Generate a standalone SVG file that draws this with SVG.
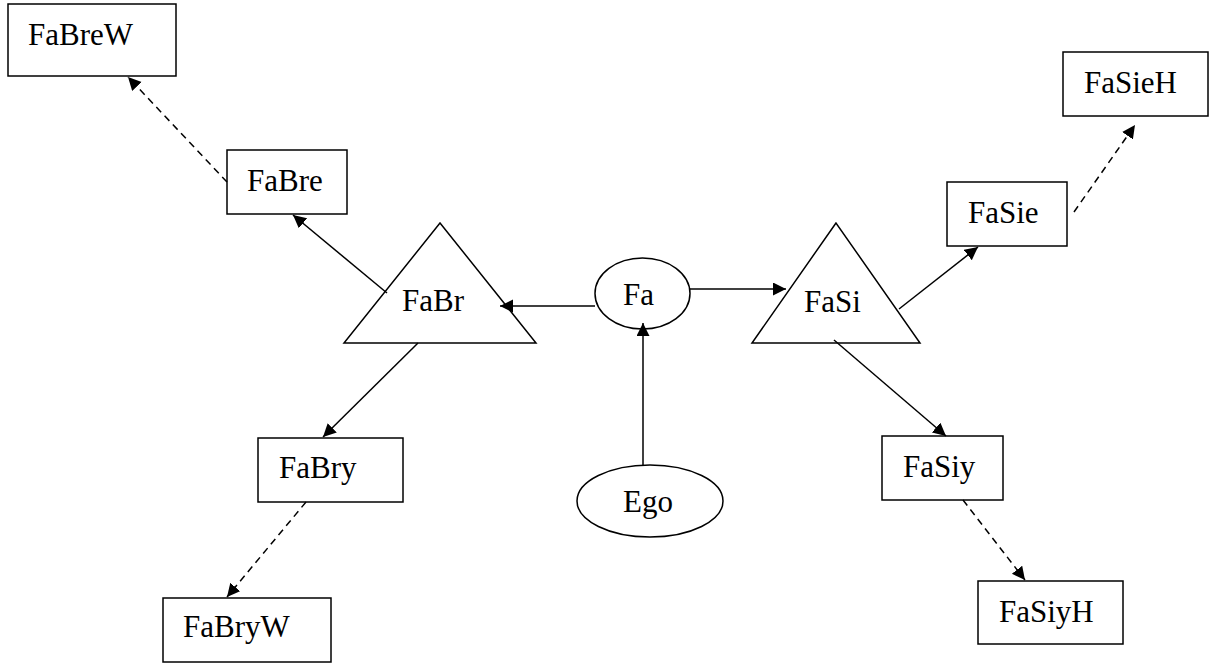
<svg xmlns="http://www.w3.org/2000/svg" width="1214" height="663" viewBox="0 0 1214 663">
<style>
.box{fill:#fff;stroke:#000;stroke-width:1.5}
.lbl{font-family:"Liberation Serif","Times New Roman",serif;font-size:31px;fill:#000}
.c{stroke:#000;stroke-width:1.5;fill:none;marker-end:url(#ah)}
.d{stroke-dasharray:7 5}
</style>
<defs>
<marker id="ah" markerUnits="userSpaceOnUse" markerWidth="14" markerHeight="14" refX="13" refY="6.5" orient="auto">
<path d="M0,0 L13,6.5 L0,13 z" fill="#000"/>
</marker>
</defs>
<rect width="1214" height="663" fill="#fff"/>
<g id="FaBreW"><rect class="box" x="8" y="4" width="168" height="72"/><text class="lbl" x="28" y="45">FaBreW</text></g>
<g id="FaBre"><rect class="box" x="227" y="150" width="120" height="64"/><text class="lbl" x="247" y="191">FaBre</text></g>
<g id="FaBr"><polygon class="box" points="440,223 344,343 536,343"/><text class="lbl" x="402" y="311">FaBr</text></g>
<g id="Fa"><ellipse class="box" cx="642.5" cy="293.5" rx="47.5" ry="35.5"/><text class="lbl" x="623" y="305">Fa</text></g>
<g id="FaSi"><polygon class="box" points="836,223 752,343 920,343"/><text class="lbl" x="804" y="312">FaSi</text></g>
<g id="FaSie"><rect class="box" x="947" y="182" width="120" height="64"/><text class="lbl" x="968" y="223">FaSie</text></g>
<g id="FaSieH"><rect class="box" x="1063" y="52" width="145" height="64"/><text class="lbl" x="1084" y="93">FaSieH</text></g>
<g id="FaBry"><rect class="box" x="258" y="438" width="145" height="64"/><text class="lbl" x="279" y="478">FaBry</text></g>
<g id="FaBryW"><rect class="box" x="163" y="598" width="168" height="64"/><text class="lbl" x="183" y="637">FaBryW</text></g>
<g id="Ego"><ellipse class="box" cx="650" cy="501" rx="73" ry="36"/><text class="lbl" x="623" y="512">Ego</text></g>
<g id="FaSiy"><rect class="box" x="882" y="436" width="121" height="64"/><text class="lbl" x="903" y="477">FaSiy</text></g>
<g id="FaSiyH"><rect class="box" x="978" y="581" width="145" height="63"/><text class="lbl" x="999" y="622">FaSiyH</text></g>
<g id="connectors">
<line class="c" x1="595" y1="306" x2="500" y2="306"/>
<line class="c" x1="690" y1="289" x2="786" y2="289"/>
<line class="c" x1="643" y1="465" x2="643" y2="323"/>
<line class="c" x1="387" y1="293" x2="293" y2="215"/>
<line class="c" x1="418" y1="343" x2="323" y2="437"/>
<line class="c" x1="899" y1="309" x2="978" y2="247"/>
<line class="c" x1="834" y1="340" x2="946" y2="436"/>
<line class="c d" x1="227" y1="182" x2="128" y2="77"/>
<line class="c d" x1="306" y1="502" x2="227" y2="597"/>
<line class="c d" x1="1074" y1="212" x2="1135" y2="125"/>
<line class="c d" x1="963" y1="500" x2="1025" y2="580"/>
</g>
</svg>
